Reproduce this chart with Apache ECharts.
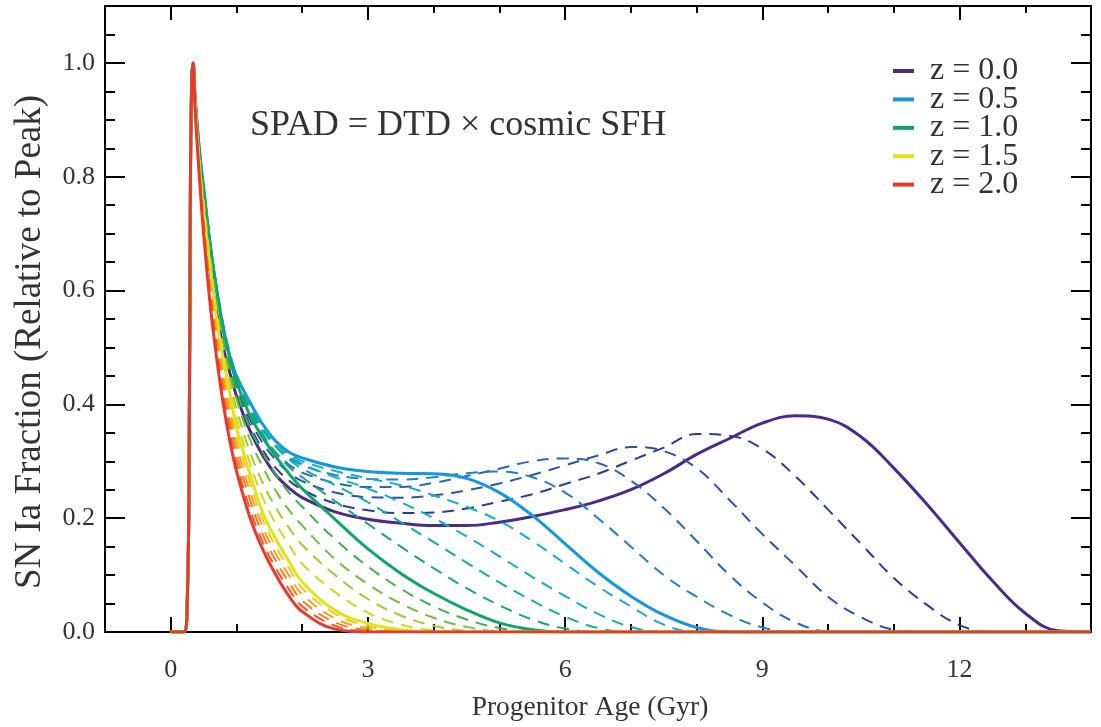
<!DOCTYPE html>
<html>
<head>
<meta charset="utf-8">
<script src="https://cdn.jsdelivr.net/npm/echarts@6/dist/echarts.min.js"></script>
<style>
html,body{margin:0;padding:0;background:#fff;}
#chart{width:1101px;height:727px;}
</style>
</head>
<body>
<div id="chart"></div>
<script>
// Progenitor age grid (Gyr)
const ageGrid = [0, 0.2, 0.25, 0.28, 0.3, 0.32, 0.34, 0.37, 0.4, 0.45, 0.5, 0.6, 0.7, 0.8, 0.9, 1.0, 1.2, 1.4, 1.6, 1.8,
  2.0, 2.5, 3.0, 3.5, 4.0, 4.5, 5.0, 5.5, 6.0, 6.5, 7.0, 7.5, 8.0, 8.5, 9.0, 9.5, 10.0, 10.5, 11.0, 11.5, 12.0, 12.5, 13.0, 13.5, 14.0];

// SN Ia fraction (relative to peak) for each redshift
const fracZ00 = [0,0,0.05,0.3,0.8,0.97,1.0, 0.935,0.88,0.80,0.74,0.635,0.56,0.50,0.455,0.415,0.355,0.31,0.276,0.253,
  0.236,0.211,0.198,0.191,0.187,0.187,0.193,0.203,0.215,0.23,0.25,0.278,0.312,0.34,0.367,0.38,0.374,0.343,0.288,0.225,0.157,0.09,0.033,0.002,0];
const fracZ01 = [0,0,0.05,0.3,0.8,0.97,1.0, 0.937,0.885,0.81,0.75,0.645,0.57,0.51,0.465,0.425,0.365,0.32,0.288,0.266,
  0.25,0.226,0.214,0.209,0.21,0.217,0.229,0.242,0.26,0.278,0.301,0.324,0.348,0.345,0.322,0.274,0.215,0.155,0.095,0.048,0.012,0,0,0,0];
const fracZ02 = [0,0,0.05,0.3,0.8,0.97,1.0, 0.938,0.888,0.815,0.757,0.655,0.58,0.518,0.47,0.432,0.375,0.332,0.302,0.28,
  0.265,0.245,0.237,0.236,0.24,0.249,0.261,0.276,0.293,0.31,0.325,0.318,0.288,0.232,0.172,0.117,0.062,0.026,0.004,0,0,0,0,0,0];
const fracZ03 = [0,0,0.05,0.3,0.8,0.97,1.0, 0.94,0.89,0.82,0.762,0.662,0.585,0.524,0.477,0.44,0.384,0.343,0.315,0.294,
  0.28,0.262,0.255,0.255,0.262,0.274,0.287,0.3,0.305,0.297,0.266,0.218,0.16,0.1,0.052,0.017,0.001,0,0,0,0,0,0,0,0];
const fracZ04 = [0,0,0.05,0.3,0.8,0.97,1.0, 0.94,0.893,0.825,0.77,0.67,0.592,0.53,0.481,0.445,0.394,0.355,0.326,0.306,
  0.293,0.276,0.269,0.268,0.272,0.279,0.282,0.272,0.245,0.2,0.15,0.1,0.062,0.03,0.008,0,0,0,0,0,0,0,0,0,0];
const fracZ05 = [0,0,0.05,0.3,0.8,0.97,1.0, 0.94,0.895,0.83,0.78,0.68,0.6,0.535,0.485,0.45,0.405,0.365,0.335,0.316,
  0.306,0.29,0.282,0.279,0.278,0.27,0.245,0.205,0.155,0.105,0.063,0.03,0.008,0,0,0,0,0,0,0,0,0,0,0,0];
const fracZ06 = [0,0,0.05,0.3,0.8,0.97,1.0, 0.94,0.897,0.832,0.782,0.685,0.605,0.54,0.49,0.453,0.405,0.365,0.335,0.313,
  0.3,0.283,0.27,0.258,0.24,0.22,0.195,0.16,0.12,0.08,0.045,0.013,0,0,0,0,0,0,0,0,0,0,0,0,0];
const fracZ07 = [0,0,0.05,0.3,0.8,0.97,1.0, 0.94,0.897,0.832,0.782,0.684,0.604,0.539,0.488,0.452,0.402,0.362,0.332,0.31,
  0.295,0.272,0.252,0.228,0.2,0.168,0.133,0.097,0.063,0.032,0.009,0,0,0,0,0,0,0,0,0,0,0,0,0,0];
const fracZ08 = [0,0,0.05,0.3,0.8,0.97,1.0, 0.94,0.896,0.831,0.781,0.683,0.603,0.537,0.486,0.45,0.398,0.357,0.326,0.303,
  0.287,0.258,0.228,0.193,0.158,0.122,0.087,0.055,0.027,0.007,0,0,0,0,0,0,0,0,0,0,0,0,0,0,0];
const fracZ09 = [0,0,0.05,0.3,0.8,0.97,1.0, 0.94,0.896,0.83,0.78,0.682,0.602,0.534,0.483,0.445,0.39,0.348,0.315,0.29,
  0.272,0.23,0.19,0.15,0.112,0.077,0.047,0.022,0.006,0,0,0,0,0,0,0,0,0,0,0,0,0,0,0,0];
const fracZ10 = [0,0,0.05,0.3,0.8,0.97,1.0, 0.94,0.895,0.83,0.78,0.68,0.6,0.53,0.48,0.44,0.382,0.342,0.308,0.278,
  0.252,0.198,0.146,0.103,0.068,0.039,0.016,0.004,0,0,0,0,0,0,0,0,0,0,0,0,0,0,0,0,0];
const fracZ11 = [0,0,0.05,0.3,0.8,0.97,1.0, 0.938,0.89,0.82,0.768,0.668,0.583,0.515,0.465,0.425,0.36,0.315,0.277,0.245,
  0.22,0.163,0.115,0.076,0.045,0.022,0.007,0,0,0,0,0,0,0,0,0,0,0,0,0,0,0,0,0,0];
const fracZ12 = [0,0,0.05,0.3,0.8,0.97,1.0, 0.936,0.886,0.815,0.76,0.658,0.572,0.503,0.452,0.41,0.34,0.29,0.248,0.214,
  0.187,0.128,0.084,0.05,0.025,0.009,0.001,0,0,0,0,0,0,0,0,0,0,0,0,0,0,0,0,0,0];
const fracZ13 = [0,0,0.05,0.3,0.8,0.97,1.0, 0.934,0.883,0.81,0.752,0.651,0.564,0.495,0.44,0.393,0.318,0.262,0.218,0.183,
  0.153,0.1,0.058,0.029,0.011,0.002,0,0,0,0,0,0,0,0,0,0,0,0,0,0,0,0,0,0,0];
const fracZ14 = [0,0,0.05,0.3,0.8,0.97,1.0, 0.932,0.879,0.805,0.746,0.645,0.556,0.487,0.43,0.377,0.298,0.236,0.19,0.153,
  0.12,0.07,0.034,0.013,0.003,0,0,0,0,0,0,0,0,0,0,0,0,0,0,0,0,0,0,0,0];
const fracZ15 = [0,0,0.05,0.3,0.8,0.97,1.0, 0.93,0.875,0.80,0.74,0.64,0.55,0.48,0.42,0.36,0.28,0.21,0.163,0.124,
  0.088,0.038,0.015,0.004,0,0,0,0,0,0,0,0,0,0,0,0,0,0,0,0,0,0,0,0,0];
const fracZ16 = [0,0,0.05,0.3,0.8,0.97,1.0, 0.928,0.872,0.795,0.732,0.627,0.536,0.464,0.403,0.345,0.265,0.197,0.15,0.112,
  0.077,0.032,0.01,0.002,0,0,0,0,0,0,0,0,0,0,0,0,0,0,0,0,0,0,0,0,0];
const fracZ17 = [0,0,0.05,0.3,0.8,0.97,1.0, 0.926,0.869,0.79,0.724,0.614,0.522,0.448,0.386,0.33,0.249,0.184,0.137,0.099,
  0.066,0.024,0.006,0.001,0,0,0,0,0,0,0,0,0,0,0,0,0,0,0,0,0,0,0,0,0];
const fracZ18 = [0,0,0.05,0.3,0.8,0.97,1.0, 0.924,0.866,0.785,0.716,0.601,0.508,0.432,0.369,0.314,0.234,0.171,0.125,0.087,
  0.055,0.017,0.003,0,0,0,0,0,0,0,0,0,0,0,0,0,0,0,0,0,0,0,0,0,0];
const fracZ19 = [0,0,0.05,0.3,0.8,0.97,1.0, 0.922,0.863,0.78,0.708,0.588,0.494,0.416,0.352,0.298,0.218,0.158,0.112,0.075,
  0.045,0.011,0.001,0,0,0,0,0,0,0,0,0,0,0,0,0,0,0,0,0,0,0,0,0,0];
const fracZ20 = [0,0,0.05,0.3,0.8,0.97,1.0, 0.92,0.86,0.775,0.70,0.575,0.48,0.40,0.335,0.283,0.203,0.145,0.10,0.063,
  0.036,0.005,0,0,0,0,0,0,0,0,0,0,0,0,0,0,0,0,0,0,0,0,0,0,0];

const redshifts = [0.0,0.1,0.2,0.3,0.4,0.5,0.6,0.7,0.8,0.9,1.0,1.1,1.2,1.3,1.4,1.5,1.6,1.7,1.8,1.9,2.0];
const curveColors = ['#4b2a8a','#2e3b94','#2d52aa','#2768bb','#1f80cc','#1696dc','#12a8dc','#10aec4','#12ad9f','#10a984',
  '#10a56e','#3fb04b','#70be3a','#a2cc2b','#c9da20','#dde41a','#f7c81b','#f6a11d','#f37e20','#ee5b24','#e8392a'];
const fracs = [fracZ00,fracZ01,fracZ02,fracZ03,fracZ04,fracZ05,fracZ06,fracZ07,fracZ08,fracZ09,fracZ10,
  fracZ11,fracZ12,fracZ13,fracZ14,fracZ15,fracZ16,fracZ17,fracZ18,fracZ19,fracZ20];
const legendNames = ['z = 0.0','z = 0.5','z = 1.0','z = 1.5','z = 2.0'];

const xMajorTicks = [0, 3, 6, 9, 12];
const xMinorTicks = [-1, 1, 2, 4, 5, 7, 8, 10, 11, 13, 14];
const yMajorTicks = [0.0, 0.2, 0.4, 0.6, 0.8, 1.0];
const yMinorTicks = [0.05, 0.1, 0.15, 0.25, 0.3, 0.35, 0.45, 0.5, 0.55, 0.65, 0.7, 0.75, 0.85, 0.9, 0.95, 1.05];

const FONT = 'Liberation Serif';
const TXT = '#333333';

const series = fracs.map((f, i) => {
  const solid = (i % 5 === 0);
  return {
    type: 'line',
    name: solid ? ('z = ' + redshifts[i].toFixed(1)) : ('z' + redshifts[i].toFixed(1)),
    data: ageGrid.map((a, k) => [a, f[k]]),
    showSymbol: false,
    smooth: 0.4,
    color: curveColors[i],
    lineStyle: { color: curveColors[i], width: solid ? 3 : 2, type: solid ? 'solid' : [12, 8] },
    z: 2 + i * 0.01,
    silent: true
  };
});

function xAx(pos, ticks, len, showLine, labels) {
  return {
    type: 'value', position: pos, min: -1, max: 14,
    axisLine: { show: showLine, onZero: false, lineStyle: { color: '#000', width: 2 } },
    axisTick: { show: true, inside: true, length: len, customValues: ticks, lineStyle: { color: '#000', width: 2 } },
    axisLabel: labels ? { show: true, customValues: ticks, color: TXT, fontFamily: FONT, fontSize: 26, margin: 25 } : { show: false },
    splitLine: { show: false }
  };
}
function yAx(pos, ticks, len, showLine, labels) {
  return {
    type: 'value', position: pos, min: 0, max: 1.1,
    axisLine: { show: showLine, onZero: false, lineStyle: { color: '#000', width: 2 } },
    axisTick: { show: true, inside: true, length: len, customValues: ticks, lineStyle: { color: '#000', width: 2 } },
    axisLabel: labels ? { show: true, customValues: ticks, color: TXT, fontFamily: FONT, fontSize: 26, margin: 10,
      formatter: v => v.toFixed(1) } : { show: false },
    splitLine: { show: false }
  };
}

const xAxes = [
  Object.assign(xAx('bottom', xMajorTicks, 15, true, true), {
    name: 'Progenitor Age (Gyr)', nameLocation: 'middle', nameGap: 62,
    nameTextStyle: { color: TXT, fontFamily: FONT, fontSize: 27.5, padding: [0, 16, 0, 0] }
  }),
  xAx('bottom', xMinorTicks, 8, false, false),
  xAx('top', xMajorTicks, 14, true, false),
  xAx('top', xMinorTicks, 7, false, false)
];
const yAxes = [
  yAx('left', yMajorTicks, 20, true, true),
  yAx('left', yMinorTicks, 10, false, false),
  yAx('right', yMajorTicks, 20, true, false),
  yAx('right', yMinorTicks, 10, false, false)
];

const chart = echarts.init(document.getElementById('chart'), null, { renderer: 'canvas' });
chart.setOption({
  animation: false,
  backgroundColor: '#ffffff',
  grid: { left: 105, right: 10, top: 6, bottom: 95, containLabel: false },
  xAxis: xAxes,
  yAxis: yAxes,
  legend: {
    data: legendNames,
    orient: 'vertical',
    left: 888, top: 50,
    icon: 'rect', itemWidth: 21, itemHeight: 4, itemGap: -3.6,
    selectedMode: false,
    textStyle: { color: TXT, fontFamily: FONT, fontSize: 32, padding: [0, 0, 0, 11] }
  },
  graphic: [
    {
      type: 'text', left: 250, top: 108,
      style: { text: 'SPAD = DTD \u00d7 cosmic SFH', fill: TXT, font: '36px "Liberation Serif"' },
      silent: true
    },
    {
      type: 'text', x: 30, y: 342, rotation: Math.PI / 2,
      style: { text: 'SN Ia Fraction (Relative to Peak)', fill: TXT, font: '37px "Liberation Serif"',
        align: 'center', verticalAlign: 'middle' },
      silent: true
    }
  ],
  series: series
});
</script>
</body>
</html>
